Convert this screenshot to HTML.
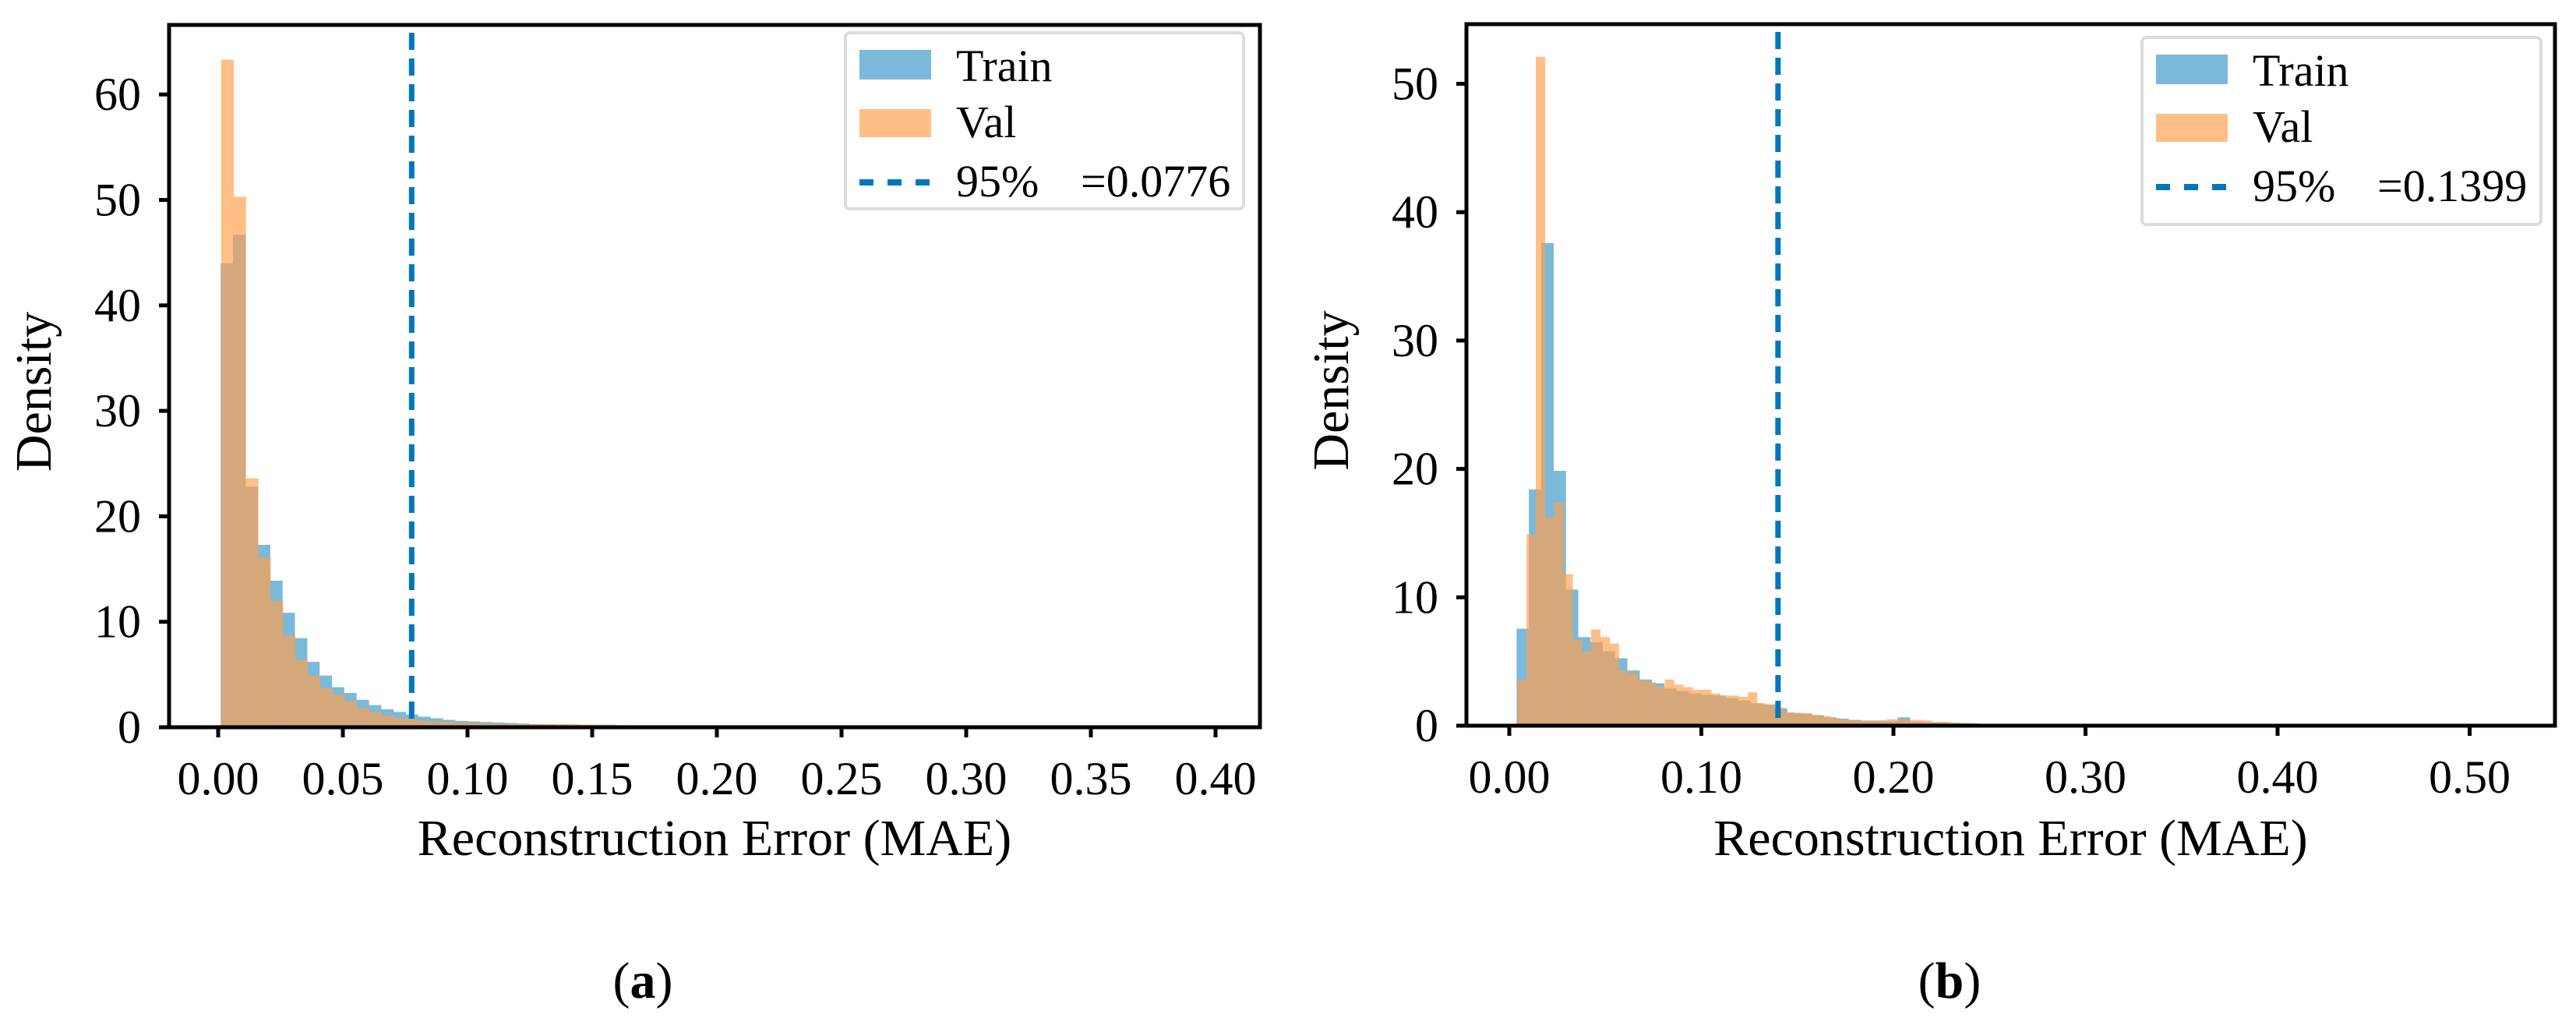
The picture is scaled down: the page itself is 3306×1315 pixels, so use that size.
<!DOCTYPE html>
<html><head><meta charset="utf-8">
<style>
html,body{margin:0;padding:0;background:#fff;}
svg{display:block;}
text{font-family:"Liberation Serif",serif;fill:#000;}
</style></head>
<body>
<svg id="fig" width="3306" height="1315" viewBox="0 0 3306 1315" xmlns="http://www.w3.org/2000/svg">
<rect x="0" y="0" width="3306" height="1315" fill="#fff"/>
<g id="panelA"></g>
<g id="panelB"></g>
</svg>
<script>
// ---- Panel (a) data ----
const aTicksX = [0.00,0.05,0.10,0.15,0.20,0.25,0.30,0.35,0.40];
const aTickLabelsX = ["0.00","0.05","0.10","0.15","0.20","0.25","0.30","0.35","0.40"];
const aTicksY = [0,10,20,30,40,50,60];
const aTrainStart = 0.001, aTrainWidth = 0.00495;
const aTrain = [44,46.7,22.8,17.3,13.9,10.85,8.45,6.2,4.9,3.8,3.25,2.6,2.1,1.7,1.45,1.2,1.0,0.85,0.7,0.6,0.55,0.5,0.45,0.4,0.35,0.3,0.25,0.2,0.15,0.1,0.08,0.06,0.05,0.04,0.03,0.03,0.02,0.02,0.02,0.02,0.02,0.02,0.02,0.02,0.02,0.02,0.02,0.02,0.02,0.02,0.02,0.02,0.02,0.02,0.02,0.02,0.02,0.02,0.02,0.02];
const aValStart = 0.0012, aValWidth = 0.00495;
const aVal = [63.3,50.3,23.6,16.1,12.0,8.7,6.4,4.9,3.7,3.1,2.5,1.8,1.45,1.1,0.86,0.77,0.6,0.55,0.5,0.45,0.4,0.4,0.35,0.35,0.3,0.3,0.3,0.3,0.3,0.25,0.25,0.25,0.2];
const aThreshold = 0.0776;

// ---- Panel (b) data ----
const bTicksX = [0.00,0.10,0.20,0.30,0.40,0.50];
const bTickLabelsX = ["0.00","0.10","0.20","0.30","0.40","0.50"];
const bTicksY = [0,10,20,30,40,50];
const bTrainStart = 0.0038, bTrainWidth = 0.0064;
const bTrain = [7.55,18.4,37.6,19.85,10.6,6.9,6.5,5.8,5.25,4.3,3.6,3.3,2.9,2.7,2.5,2.4,2.35,2.15,1.95,1.75,1.65,1.35,1.0,0.95,0.8,0.65,0.55,0.45,0.4,0.4,0.35,0.65,0.3,0.25,0.25,0.2,0.2,0.1,0.08,0.06,0.05,0.05,0.04,0.04,0.04,0.03,0.03,0.03,0.03,0.03,0.03,0.03,0.03,0.03,0.03,0.03,0.03,0.03,0.03,0.03,0.03,0.03,0.03,0.03,0.03,0.03,0.03,0.03,0.03,0.03,0.03,0.03,0.03,0.03,0.03,0.03,0.03,0.03,0.03,0.03];
const bValStart = 0.0042, bValWidth = 0.0048;
const bVal = [3.6,14.9,52.1,16.2,17.4,11.8,6.7,5.8,7.5,6.9,6.4,4.3,4.1,3.6,3.4,3.05,3.6,3.2,3.0,2.8,2.8,2.5,2.35,2.35,2.25,2.6,1.75,1.65,1.4,1.05,1.0,0.95,0.85,0.75,0.6,0.5,0.45,0.4,0.4,0.4,0.5,0.5,0.45,0.45,0.4,0.3,0.3,0.25,0.2,0.2,0.15,0.15];
const bThreshold = 0.1399;

const NS = "http://www.w3.org/2000/svg";
function mk(tag, attrs, parent){
  const e = document.createElementNS(NS, tag);
  for (const k in attrs) e.setAttribute(k, attrs[k]);
  parent.appendChild(e);
  return e;
}

function drawPanel(g, cfg){
  const L=cfg.left, R=cfg.right, T=cfg.top, B=cfg.bottom;
  const sx = v => cfg.x0px + v * cfg.pxPerX;
  const sy = v => B - v * cfg.pxPerY;

  cfg.train.forEach((v,i)=>{
    const x0 = sx(cfg.trainStart + i*cfg.trainWidth), x1 = sx(cfg.trainStart + (i+1)*cfg.trainWidth);
    const r = mk('rect',{x:x0,y:sy(v),width:x1-x0+0.3,height:B-sy(v),fill:'#7ab9da'},g);
    
    
  });
  cfg.val.forEach((v,i)=>{
    const x0 = sx(cfg.valStart + i*cfg.valWidth), x1 = sx(cfg.valStart + (i+1)*cfg.valWidth);
    const r = mk('rect',{x:x0,y:sy(v),width:x1-x0+0.3,height:B-sy(v),fill:'rgb(255,160,76)','fill-opacity':0.68},g);
    
    
  });
  const tx = sx(cfg.threshold);
  const tl = mk('line',{x1:tx,x2:tx,y1:T+10,y2:B,stroke:'#0077bb','stroke-width':7,'stroke-dasharray':'22 11'},g);
  
  

  const fr = mk('rect',{x:L,y:T,width:R-L,height:B-T,fill:'none',stroke:'#000','stroke-width':5},g);
  
  

  cfg.ticksX.forEach((v,i)=>{
    const x = sx(v);
    const t = mk('line',{x1:x,x2:x,y1:B,y2:B+13,stroke:'#000','stroke-width':5},g);
    
    
    const lb = mk('text',{x:x,y:B+86,'font-size':60,'text-anchor':'middle'},g);
    lb.textContent = cfg.tickLabelsX[i];
    
    
  });
  cfg.ticksY.forEach(v=>{
    const y = sy(v);
    const t = mk('line',{x1:L-13,x2:L,y1:y,y2:y,stroke:'#000','stroke-width':5},g);
    
    
    const lb = mk('text',{x:L-36,y:y+20,'font-size':60,'text-anchor':'end'},g);
    lb.textContent = String(v);
    
    
  });
  const xt = mk('text',{x:(L+R)/2,y:1097,'font-size':66,'text-anchor':'middle'},g);
  xt.textContent = 'Reconstruction Error (MAE)';
  
  
  const yx = L-152, yy=(T+B)/2+20;
  const yt = mk('text',{x:yx,y:yy,'font-size':66,'text-anchor':'middle',transform:`rotate(-90 ${yx} ${yy})`},g);
  yt.textContent = 'Density';
  
  

  const lg = mk('g',{},g);
  
  
  const bx=cfg.legX, by=cfg.legY, bw=cfg.legW, bh=cfg.legH;
  mk('rect',{x:bx,y:by,width:bw,height:bh,rx:6,fill:'#fff','fill-opacity':0.85,stroke:'#dcdcdc','stroke-width':4},lg);
  const px = bx+18, tx2 = bx+142;
  const p1 = mk('rect',{x:px,y:by+22,width:92,height:38,fill:'#7ab9da'},lg);
  
  
  const t1 = mk('text',{x:tx2,y:by+62,'font-size':58},lg); t1.textContent='Train';
  
  
  const p2 = mk('rect',{x:px,y:by+98,width:92,height:36,fill:'#ffbf86'},lg);
  
  
  const t2 = mk('text',{x:tx2,y:by+134,'font-size':58},lg); t2.textContent='Val';
  
  
  const dl = mk('line',{x1:px,x2:px+92,y1:by+192,y2:by+192,stroke:'#0077bb','stroke-width':8,'stroke-dasharray':'18 18'},lg);
  
  
  const t3 = mk('text',{x:tx2,y:by+210,'font-size':58},lg);
  t3.textContent = '95%';
  
  
  const t4 = mk('text',{x:tx2+160,y:by+210,'font-size':58},lg);
  t4.textContent = '=' + cfg.threshold.toFixed(4);
  
  

  const cap = mk('text',{x:cfg.capX,y:1280,'font-size':66,'text-anchor':'middle'},g);
  cap.innerHTML = '(<tspan font-weight="bold">'+cfg.cap+'</tspan>)';
  
  
}

drawPanel(document.getElementById('panelA'),{
  left:217,right:1617,top:32,bottom:933,x0px:280,pxPerX:3200,pxPerY:13.53,
  train:aTrain,trainStart:aTrainStart,trainWidth:aTrainWidth,
  val:aVal,valStart:aValStart,valWidth:aValWidth,threshold:aThreshold,
  ticksX:aTicksX,tickLabelsX:aTickLabelsX,ticksY:aTicksY,
  legX:1085,legY:42,legW:511,legH:226,capX:825,cap:'a'
});
drawPanel(document.getElementById('panelB'),{
  left:1882,right:3279,top:31,bottom:931,x0px:1937,pxPerX:2465,pxPerY:16.47,
  train:bTrain,trainStart:bTrainStart,trainWidth:bTrainWidth,
  val:bVal,valStart:bValStart,valWidth:bValWidth,threshold:bThreshold,
  ticksX:bTicksX,tickLabelsX:bTickLabelsX,ticksY:bTicksY,
  legX:2749,legY:48,legW:512,legH:240,capX:2502,cap:'b'
});
</script>
</body></html>
